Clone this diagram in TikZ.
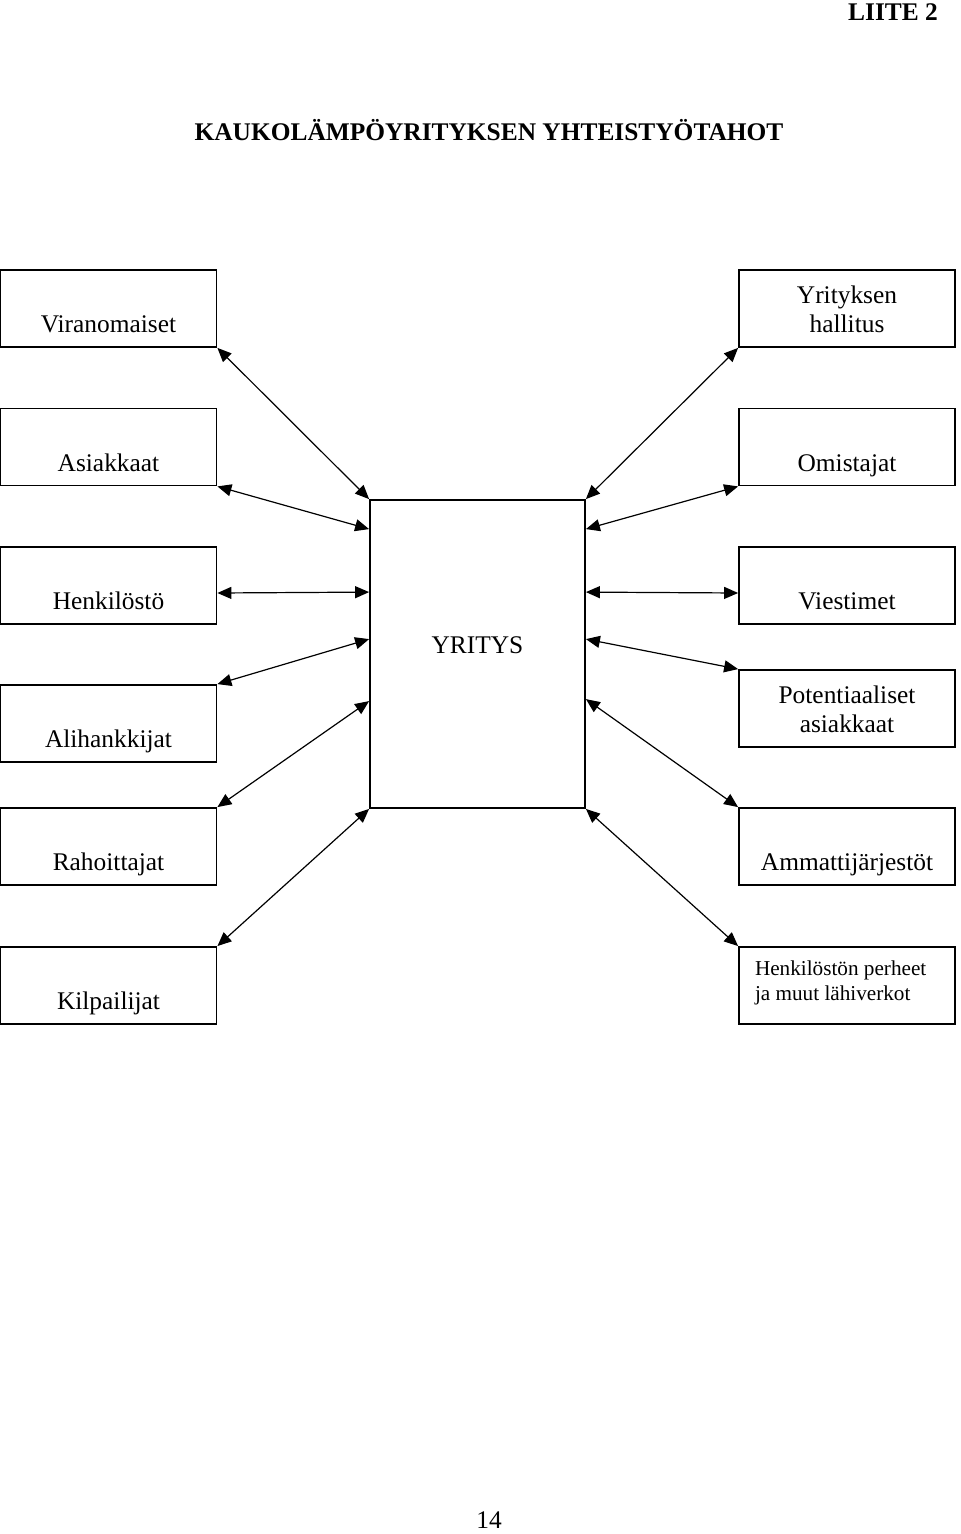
\documentclass[tikz,border=0pt]{standalone}
\usepackage{fontspec}
\setmainfont{Liberation Serif}
\usetikzlibrary{arrows.meta}
\newcommand{\boxtext}[1]{\parbox[c][38.5pt][b]{108pt}{\centering\strut#1\strut\par\vspace{2.8pt}}}

\begin{document}
\begin{tikzpicture}[line cap=round,line join=round,>={Triangle[length=7pt,width=6pt]},x=0.5pt,y=-0.5pt,
  font=\fontsize{12.7}{14.5}\selectfont,
  box/.style={draw,line width=0.9pt,line join=miter,inner sep=0pt}]
  \useasboundingbox (0,0) rectangle (960,1534);
  \node[font=\fontsize{12.7}{14.5}\selectfont\bfseries] (liite) at (893,12) {LIITE 2};
  \node[font=\fontsize{12.7}{14.5}\selectfont\bfseries] (otsikko) at (489,130) {KAUKOLÄMPÖYRITYKSEN YHTEISTYÖTAHOT};
  % vasen sarake
  \foreach \nimi/\y/\teksti in {vir/308.5/Viranomaiset,asi/447/Asiakkaat,hen/585.5/Henkilöstö,ali/723.5/Alihankkijat,rah/846.5/Rahoittajat,kil/985.5/Kilpailijat}
  \node[box] (\nimi) at (108.5,\y) {\boxtext{\teksti}};
  % oikea sarake
  \foreach \nimi/\y/\teksti in {hal/308.5/{Yrityksen\\hallitus},omi/447/Omistajat,vie/585.5/Viestimet,pot/708.5/{Potentiaaliset\\asiakkaat},amm/846.5/Ammattijärjestöt}
  \node[box] (\nimi) at (847,\y) {\boxtext{\teksti}};
  \node[box] (per) at (847,985.5) {\parbox[c][38.5pt][t]{108pt}{\fontsize{10.6}{12.5}\selectfont\vspace{6.8pt}\raggedright\leftskip=8pt Henkilöstön perheet\\ja muut lähiverkot\par}};
  \node[box,minimum width=107.5pt,minimum height=154pt,text depth=9pt] (yr) at (477.5,654) {YRITYS};
  % nuolet
  \draw[<->,line width=0.6pt] (vir.south east) -- (yr.north west);
  \draw[<->,line width=0.6pt] (asi.south east) -- ([yshift=-15pt]yr.north west);
  \draw[<->,line width=0.6pt] ([yshift=-3.75pt]hen.east) -- ([yshift=-46.5pt]yr.north west);
  \draw[<->,line width=0.6pt] (ali.north east) -- ([yshift=-70pt]yr.north west);
  \draw[<->,line width=0.6pt] (rah.north east) -- ([yshift=-101pt]yr.north west);
  \draw[<->,line width=0.6pt] (kil.north east) -- (yr.south west);
  \draw[<->,line width=0.6pt] (hal.south west) -- (yr.north east);
  \draw[<->,line width=0.6pt] (omi.south west) -- ([yshift=-15pt]yr.north east);
  \draw[<->,line width=0.6pt] ([yshift=-3.75pt]vie.west) -- ([yshift=-46.5pt]yr.north east);
  \draw[<->,line width=0.6pt] (pot.north west) -- ([yshift=-70pt]yr.north east);
  \draw[<->,line width=0.6pt] (amm.north west) -- ([yshift=-100pt]yr.north east);
  \draw[<->,line width=0.6pt] (per.north west) -- (yr.south east);
  \node[inner sep=0pt] (sivu) at (489,1520) {14};
\end{tikzpicture}
\end{document}
